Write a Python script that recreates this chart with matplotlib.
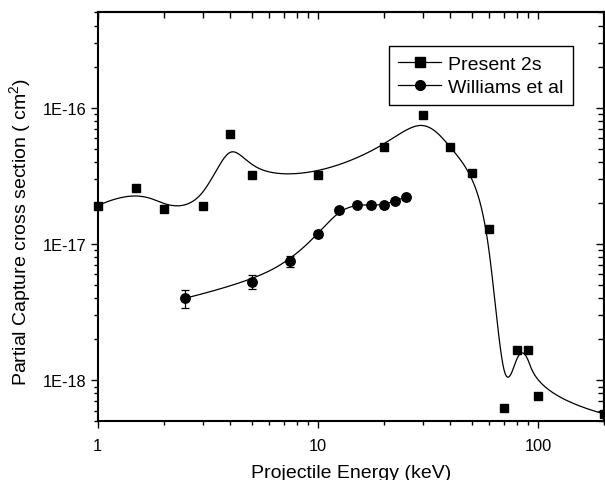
import numpy as np
import matplotlib
matplotlib.use("Agg")
import matplotlib.pyplot as plt
from matplotlib.lines import Line2D

plt.rcParams['font.family'] = ['Liberation Sans', 'DejaVu Sans']
plt.rcParams['mathtext.default'] = 'regular'

# Present 2s (squares)
energy_present = [1, 1.5, 2, 3, 4, 5, 10, 20, 30, 40, 50, 60, 70, 80, 90, 100, 200]
sigma_present = [1.91e-17, 2.56e-17, 1.80e-17, 1.91e-17, 6.4e-17, 3.18e-17, 3.2e-17,
                 5.14e-17, 8.9e-17, 5.1e-17, 3.34e-17, 1.29e-17, 6.3e-19, 1.66e-18,
                 1.66e-18, 7.7e-19, 5.66e-19]

# Williams et al (circles with error bars)
energy_williams = [2.5, 5, 7.5, 10, 12.5, 15, 17.5, 20, 22.5, 25]
sigma_williams = [4.0e-18, 5.3e-18, 7.5e-18, 1.19e-17, 1.77e-17, 1.94e-17, 1.93e-17,
                  1.93e-17, 2.08e-17, 2.2e-17]
err_williams = [0.6e-18, 0.6e-18, 0.7e-18, 0.6e-18, 0.8e-18, 0.8e-18, 0.8e-18,
                0.8e-18, 0.9e-18, 1.0e-18]


def bspline_loglog(x, y, n=600, k=3):
    """Clamped B-spline through control points in log-log space (Origin style)."""
    P = np.column_stack([np.log10(x), np.log10(y)])
    m = len(P)
    k = min(k, m - 1)
    knots = np.concatenate([np.zeros(k), np.linspace(0, 1, m - k + 1), np.ones(k)])
    t = np.linspace(0, 1, n)
    t[-1] -= 1e-12
    N = np.zeros((n, len(knots) - 1))
    for i in range(len(knots) - 1):
        N[:, i] = (knots[i] <= t) & (t < knots[i + 1])
    for d in range(1, k + 1):
        Nn = np.zeros((n, len(knots) - 1 - d))
        for i in range(len(knots) - 1 - d):
            a = knots[i + d] - knots[i]
            b = knots[i + d + 1] - knots[i + 1]
            term = np.zeros(n)
            if a > 0:
                term += (t - knots[i]) / a * N[:, i]
            if b > 0:
                term += (knots[i + d + 1] - t) / b * N[:, i + 1]
            Nn[:, i] = term
        N = Nn
    c = N @ P
    return 10 ** c[:, 0], 10 ** c[:, 1]


fig = plt.figure(figsize=(6.05, 4.81), dpi=100)
ax = fig.add_axes([0.1615, 0.122, 0.8375, 0.8503])

cx, cy = bspline_loglog(energy_present, sigma_present)
ax.plot(cx, cy, color='k', lw=0.9)
ax.plot(energy_present, sigma_present, 's', color='k', ms=6.2, clip_on=False, zorder=3)

wx, wy = bspline_loglog(energy_williams, sigma_williams)
ax.plot(wx, wy, color='k', lw=0.9)
ax.errorbar(energy_williams, sigma_williams, yerr=err_williams, fmt='o', color='k',
            ms=6.8, capsize=3.2, elinewidth=0.9, capthick=0.9, zorder=3)

ax.set_xscale('log')
ax.set_yscale('log')
ax.set_xlim(1, 200)
ax.set_ylim(5e-19, 5e-16)

ax.set_xticks([1, 10, 100])
ax.set_xticklabels(['1', '10', '100'])
ax.set_yticks([1e-18, 1e-17, 1e-16])
ax.set_yticklabels(['1E-18', '1E-17', '1E-16'])

for s in ax.spines.values():
    s.set_linewidth(1.5)
ax.tick_params(which='major', direction='out', length=5, width=1, labelsize=11.8)
ax.tick_params(axis='x', which='major', pad=7)
ax.tick_params(axis='y', which='major', pad=3)
ax.tick_params(which='minor', direction='out', length=3, width=1)
ax.xaxis.set_minor_formatter(matplotlib.ticker.NullFormatter())
ax.yaxis.set_minor_formatter(matplotlib.ticker.NullFormatter())

top = ax.secondary_xaxis('top')
top.tick_params(which='major', direction='in', length=5, width=1, labeltop=False)
top.tick_params(which='minor', direction='in', length=4, width=1)
top.xaxis.set_major_formatter(matplotlib.ticker.NullFormatter())
top.xaxis.set_minor_formatter(matplotlib.ticker.NullFormatter())
top.spines['top'].set_linewidth(1.5)

right = ax.secondary_yaxis('right')
right.tick_params(which='major', direction='in', length=6, width=1, labelright=False)
right.tick_params(which='minor', direction='in', length=4, width=1)
right.yaxis.set_major_formatter(matplotlib.ticker.NullFormatter())
right.yaxis.set_minor_formatter(matplotlib.ticker.NullFormatter())
right.spines['right'].set_linewidth(1.5)

ax.set_xlabel('Projectile Energy (keV)', fontsize=14)
ax.xaxis.set_label_coords(0.5, -0.104)
ax.set_ylabel('Partial Capture cross section ( cm$^2$)', fontsize=14)
ax.yaxis.set_label_coords(-0.127, 0.466)

handles = [Line2D([], [], color='k', lw=0.9, marker='s', ms=6.5),
           Line2D([], [], color='k', lw=0.9, marker='o', ms=7)]
leg = ax.legend(handles, ['Present 2s', 'Williams et al'], loc='upper right',
                bbox_to_anchor=(0.938, 0.918), fontsize=14, frameon=True,
                fancybox=False, framealpha=1, edgecolor='k', handlelength=2.2,
                handletextpad=0.35, borderpad=0.5, labelspacing=0.25,
                borderaxespad=0)
leg.get_frame().set_linewidth(1.0)

fig.savefig('out.png', dpi=100)
